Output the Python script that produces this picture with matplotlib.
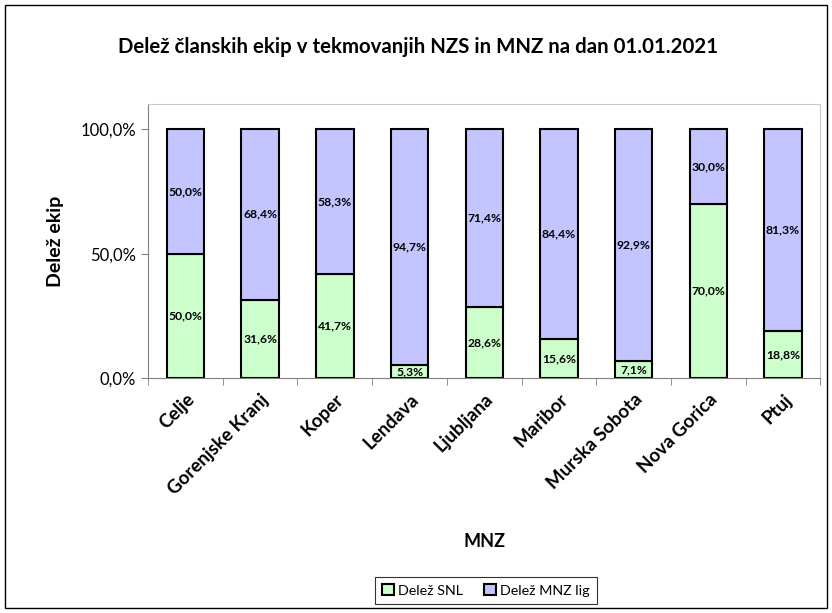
import matplotlib
matplotlib.use("Agg")
import matplotlib.pyplot as plt
from matplotlib.patches import Rectangle, Patch
import numpy as np

plt.rcParams['font.family'] = ['Lato', 'DejaVu Sans']

# podatki
mnz = ['Celje', 'Gorenjske Kranj', 'Koper', 'Lendava', 'Ljubljana',
       'Maribor', 'Murska Sobota', 'Nova Gorica', 'Ptuj']
delez_snl = [50.0, 31.6, 41.7, 5.3, 28.6, 15.6, 7.1, 70.0, 18.8]
delez_mnz = [50.0, 68.4, 58.3, 94.7, 71.4, 84.4, 92.9, 30.0, 81.3]
yticks = [0, 50, 100]

c_snl = '#CCFFCC'
c_mnz = '#C4C4FF'

def fmt(v):
    return f"{v:.1f}%".replace('.', ',')

fig = plt.figure(figsize=(8.32, 6.13), dpi=100)
fig.patches.append(Rectangle((0.006, 0.008), 0.988, 0.984, transform=fig.transFigure,
                             fill=False, edgecolor='black', lw=1))
ax = fig.add_axes([0.178, 0.383, 0.808, 0.447])

x = np.arange(len(mnz))
ax.bar(x, delez_snl, width=0.5, color=c_snl, edgecolor='black', lw=1.5)
ax.bar(x, delez_mnz, width=0.5, bottom=delez_snl, color=c_mnz,
       edgecolor='black', lw=1.5)

for i in range(len(mnz)):
    ax.text(x[i], delez_snl[i] / 2, fmt(delez_snl[i]), ha='center', va='center',
            fontsize=8.7, fontweight='bold')
    ax.text(x[i], delez_snl[i] + delez_mnz[i] / 2, fmt(delez_mnz[i]), ha='center',
            va='center', fontsize=8.7, fontweight='bold')

ax.set_xlim(-0.5, len(mnz) - 0.5)
ax.set_ylim(0, 110)
ax.set_yticks(yticks)
ax.set_yticklabels([fmt(v) for v in yticks], fontsize=12)
ax.set_xticks(x)
ax.set_xticklabels(mnz, rotation=45, ha='right', rotation_mode='anchor',
                   fontsize=13.5, fontweight='bold')
ax.tick_params(axis='x', length=0, pad=9)
ax.set_xticks(np.arange(len(mnz) + 1) - 0.5, minor=True)
ax.tick_params(axis='x', which='minor', length=5, color='#808080')
ax.tick_params(axis='y', length=5, color='#808080')

for s in ['top', 'right']:
    ax.spines[s].set_color('#C8C8C8')
for s in ['left', 'bottom']:
    ax.spines[s].set_color('#808080')

ax.set_ylabel('Delež ekip', fontsize=14, fontweight='bold', labelpad=12)
fig.text(0.582, 0.116, 'MNZ', ha='center', va='center', fontsize=13, fontweight='bold')
fig.text(0.502, 0.923, 'Delež članskih ekip v tekmovanjih NZS in MNZ na dan 01.01.2021',
         ha='center', va='center', fontsize=14.7, fontweight='bold')

handles = [Patch(facecolor=c_snl, edgecolor='black', lw=1.5),
           Patch(facecolor=c_mnz, edgecolor='black', lw=1.5)]
leg = fig.legend(handles, ['Delež SNL', 'Delež MNZ lig'], loc='center',
                 bbox_to_anchor=(0.584, 0.037), ncol=2, fontsize=10.3, frameon=True,
                 fancybox=False, edgecolor='black', handlelength=0.8, handleheight=0.8,
                 handletextpad=0.3, columnspacing=1.5, borderpad=0.5)
leg.get_frame().set_linewidth(0.8)

fig.savefig('out.png', dpi=100)
